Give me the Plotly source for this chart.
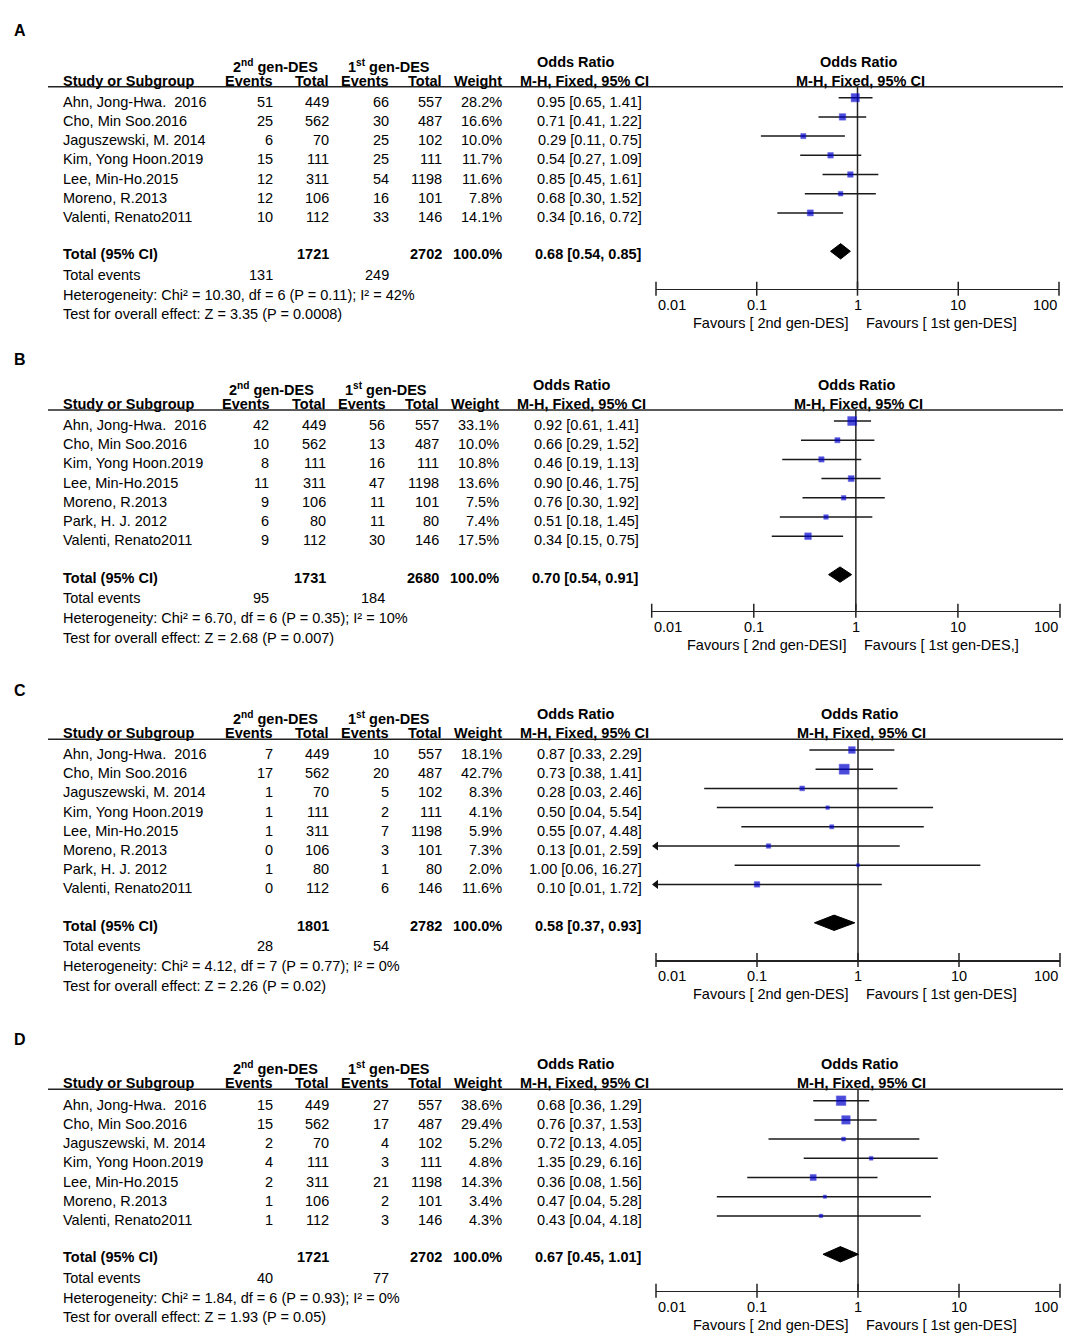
import math
import plotly.graph_objects as go

W, H = 1069, 1339
FONT = "Liberation Sans, Arial, sans-serif"
FS = 14.5

# ---------------- data ----------------
A_studies = ["Ahn, Jong-Hwa.\u00a0 2016", "Cho, Min Soo.2016", "Jaguszewski, M. 2014", "Kim, Yong Hoon.2019",
             "Lee, Min-Ho.2015", "Moreno, R.2013", "Valenti, Renato2011"]
A_ev2 = [51, 25, 6, 15, 12, 12, 10]
A_tot2 = [449, 562, 70, 111, 311, 106, 112]
A_ev1 = [66, 30, 25, 25, 54, 16, 33]
A_tot1 = [557, 487, 102, 111, 1198, 101, 146]
A_weight = [28.2, 16.6, 10.0, 11.7, 11.6, 7.8, 14.1]
A_or = [0.95, 0.71, 0.29, 0.54, 0.85, 0.68, 0.34]
A_lo = [0.65, 0.41, 0.11, 0.27, 0.45, 0.30, 0.16]
A_hi = [1.41, 1.22, 0.75, 1.09, 1.61, 1.52, 0.72]
A_totals = [1721, 2702]
A_total_ci = [0.68, 0.54, 0.85]
A_total_events = [131, 249]
A_het = "Heterogeneity: Chi² = 10.30, df = 6 (P = 0.11); I² = 42%"
A_test = "Test for overall effect: Z = 3.35 (P = 0.0008)"
A_fav = ["Favours [ 2nd gen-DES]", "Favours [ 1st gen-DES]"]

B_studies = ["Ahn, Jong-Hwa.\u00a0 2016", "Cho, Min Soo.2016", "Kim, Yong Hoon.2019", "Lee, Min-Ho.2015",
             "Moreno, R.2013", "Park, H. J. 2012", "Valenti, Renato2011"]
B_ev2 = [42, 10, 8, 11, 9, 6, 9]
B_tot2 = [449, 562, 111, 311, 106, 80, 112]
B_ev1 = [56, 13, 16, 47, 11, 11, 30]
B_tot1 = [557, 487, 111, 1198, 101, 80, 146]
B_weight = [33.1, 10.0, 10.8, 13.6, 7.5, 7.4, 17.5]
B_or = [0.92, 0.66, 0.46, 0.90, 0.76, 0.51, 0.34]
B_lo = [0.61, 0.29, 0.19, 0.46, 0.30, 0.18, 0.15]
B_hi = [1.41, 1.52, 1.13, 1.75, 1.92, 1.45, 0.75]
B_totals = [1731, 2680]
B_total_ci = [0.70, 0.54, 0.91]
B_total_events = [95, 184]
B_het = "Heterogeneity: Chi² = 6.70, df = 6 (P = 0.35); I² = 10%"
B_test = "Test for overall effect: Z = 2.68 (P = 0.007)"
B_fav = ["Favours [ 2nd gen-DESI]", "Favours [ 1st gen-DES,]"]

C_studies = ["Ahn, Jong-Hwa.\u00a0 2016", "Cho, Min Soo.2016", "Jaguszewski, M. 2014", "Kim, Yong Hoon.2019",
             "Lee, Min-Ho.2015", "Moreno, R.2013", "Park, H. J. 2012", "Valenti, Renato2011"]
C_ev2 = [7, 17, 1, 1, 1, 0, 1, 0]
C_tot2 = [449, 562, 70, 111, 311, 106, 80, 112]
C_ev1 = [10, 20, 5, 2, 7, 3, 1, 6]
C_tot1 = [557, 487, 102, 111, 1198, 101, 80, 146]
C_weight = [18.1, 42.7, 8.3, 4.1, 5.9, 7.3, 2.0, 11.6]
C_or = [0.87, 0.73, 0.28, 0.50, 0.55, 0.13, 1.00, 0.10]
C_lo = [0.33, 0.38, 0.03, 0.04, 0.07, 0.01, 0.06, 0.01]
C_hi = [2.29, 1.41, 2.46, 5.54, 4.48, 2.59, 16.27, 1.72]
C_totals = [1801, 2782]
C_total_ci = [0.58, 0.37, 0.93]
C_total_events = [28, 54]
C_het = "Heterogeneity: Chi² = 4.12, df = 7 (P = 0.77); I² = 0%"
C_test = "Test for overall effect: Z = 2.26 (P = 0.02)"
C_fav = ["Favours [ 2nd gen-DES]", "Favours [ 1st gen-DES]"]

D_studies = ["Ahn, Jong-Hwa.\u00a0 2016", "Cho, Min Soo.2016", "Jaguszewski, M. 2014", "Kim, Yong Hoon.2019",
             "Lee, Min-Ho.2015", "Moreno, R.2013", "Valenti, Renato2011"]
D_ev2 = [15, 15, 2, 4, 2, 1, 1]
D_tot2 = [449, 562, 70, 111, 311, 106, 112]
D_ev1 = [27, 17, 4, 3, 21, 2, 3]
D_tot1 = [557, 487, 102, 111, 1198, 101, 146]
D_weight = [38.6, 29.4, 5.2, 4.8, 14.3, 3.4, 4.3]
D_or = [0.68, 0.76, 0.72, 1.35, 0.36, 0.47, 0.43]
D_lo = [0.36, 0.37, 0.13, 0.29, 0.08, 0.04, 0.04]
D_hi = [1.29, 1.53, 4.05, 6.16, 1.56, 5.28, 4.18]
D_totals = [1721, 2702]
D_total_ci = [0.67, 0.45, 1.01]
D_total_events = [40, 77]
D_het = "Heterogeneity: Chi² = 1.84, df = 6 (P = 0.93); I² = 0%"
D_test = "Test for overall effect: Z = 1.93 (P = 0.05)"
D_fav = ["Favours [ 2nd gen-DES]", "Favours [ 1st gen-DES]"]

tick_vals = [0.01, 0.1, 1, 10, 100]
tick_text = ["0.01", "0.1", "1", "10", "100"]

panels = [
    dict(label="A", studies=A_studies, ev2=A_ev2, tot2=A_tot2, ev1=A_ev1, tot1=A_tot1, w=A_weight,
         orv=A_or, lo=A_lo, hi=A_hi, totals=A_totals, tci=A_total_ci, tev=A_total_events, het=A_het,
         test=A_test, fav=A_fav),
    dict(label="B", studies=B_studies, ev2=B_ev2, tot2=B_tot2, ev1=B_ev1, tot1=B_tot1, w=B_weight,
         orv=B_or, lo=B_lo, hi=B_hi, totals=B_totals, tci=B_total_ci, tev=B_total_events, het=B_het,
         test=B_test, fav=B_fav),
    dict(label="C", studies=C_studies, ev2=C_ev2, tot2=C_tot2, ev1=C_ev1, tot1=C_tot1, w=C_weight,
         orv=C_or, lo=C_lo, hi=C_hi, totals=C_totals, tci=C_total_ci, tev=C_total_events, het=C_het,
         test=C_test, fav=C_fav),
    dict(label="D", studies=D_studies, ev2=D_ev2, tot2=D_tot2, ev1=D_ev1, tot1=D_tot1, w=D_weight,
         orv=D_or, lo=D_lo, hi=D_hi, totals=D_totals, tci=D_total_ci, tev=D_total_events, het=D_het,
         test=D_test, fav=D_fav),
]

# ---------------- layout constants (pixels) ----------------
geo = [
    dict(first=97.7, header=86.7, axis=288.7, lab=31.0, dx=0.0, axl=656.0, axr=1059.0),
    dict(first=421.0, header=410.0, axis=610.7, lab=359.0, dx=-3.3, axl=651.7, axr=1060.0),
    dict(first=750.0, header=739.3, axis=960.0, lab=690.0, dx=0.0, axl=656.0, axr=1060.0),
    dict(first=1100.7, header=1089.3, axis=1290.7, lab=1039.0, dx=0.0, axl=656.0, axr=1060.0),
]
SP = 19.2
TXT_OFF = 4.0
COL = dict(name=61, ev2=274.5, tot2=331, ev1=390.5, tot1=444, wt=504, ci=644)

fig = go.Figure()
annotations = []
shapes = []


def ann(text, x_px, y_px, anchor="left", bold=False, size=FS):
    if bold:
        text = "<b>" + text + "</b>"
    annotations.append(dict(text=text, x=x_px / W, y=1 - y_px / H, xref="paper", yref="paper",
                            xanchor=anchor, yanchor="middle", showarrow=False,
                            font=dict(family=FONT, size=size, color="#000")))


def msize(w):
    return max(3.0, 1.45 * math.sqrt(w) + 0.6)


layout_axes = {}
for k, (p, g) in enumerate(zip(panels, geo)):
    idx = k + 1
    xa = "x" if idx == 1 else f"x{idx}"
    ya = "y" if idx == 1 else f"y{idx}"
    n = len(p["studies"])
    top_val = (g["header"] - g["first"]) / SP
    bot_val = (g["axis"] - g["first"]) / SP
    rows = list(range(n))
    trow = n + 1
    dx = g["dx"]

    # axes
    layout_axes["xaxis" if idx == 1 else f"xaxis{idx}"] = dict(
        type="log", range=[-2, 2], domain=[g["axl"] / W, g["axr"] / W], anchor=ya,
        showline=True, linewidth=1.5, linecolor="#222", ticks="", showticklabels=False,
        showgrid=False, zeroline=False, fixedrange=True)
    layout_axes["yaxis" if idx == 1 else f"yaxis{idx}"] = dict(
        range=[bot_val, top_val], domain=[1 - g["axis"] / H, 1 - g["header"] / H], anchor=xa,
        visible=False, showgrid=False, zeroline=False, fixedrange=True)

    # vertical line at OR = 1
    fig.add_trace(go.Scatter(x=[1, 1], y=[top_val, bot_val], mode="lines", xaxis=xa, yaxis=ya,
                             line=dict(color="#222", width=1.5), cliponaxis=False, hoverinfo="skip"))
    # CI lines
    cx, cy = [], []
    for r, lo, hi in zip(rows, p["lo"], p["hi"]):
        cx += [max(lo, 0.01), min(hi, 100), None]
        cy += [r, r, None]
    fig.add_trace(go.Scatter(x=cx, y=cy, mode="lines", xaxis=xa, yaxis=ya,
                             line=dict(color="#1a1a1a", width=1.5), cliponaxis=False, hoverinfo="skip"))
    # arrows for truncated CIs
    arx = [0.01 for lo in p["lo"] if lo <= 0.01]
    ary = [r for r, lo in zip(rows, p["lo"]) if lo <= 0.01]
    if arx:
        fig.add_trace(go.Scatter(x=arx, y=ary, mode="markers", xaxis=xa, yaxis=ya,
                                 marker=dict(symbol="triangle-left", size=8, color="#111"),
                                 cliponaxis=False, hoverinfo="skip"))
    # study squares
    fig.add_trace(go.Scatter(x=p["orv"], y=rows, mode="markers", xaxis=xa, yaxis=ya,
                             marker=dict(symbol="square", size=[msize(w) for w in p["w"]],
                                         color="#0000CC", line=dict(color="#1A1AD8", width=0.5)),
                             cliponaxis=False, hoverinfo="skip"))
    # pooled diamond
    o, lo, hi = p["tci"]
    hh = 0.4
    fig.add_trace(go.Scatter(x=[lo, o, hi, o, lo], y=[trow, trow - hh, trow, trow + hh, trow],
                             mode="lines", fill="toself", fillcolor="#000", xaxis=xa, yaxis=ya,
                             line=dict(color="#000", width=1), cliponaxis=False, hoverinfo="skip"))
    # axis tick marks crossing the axis line
    fig.add_trace(go.Scatter(x=tick_vals, y=[bot_val] * len(tick_vals), mode="markers", xaxis=xa, yaxis=ya,
                             marker=dict(symbol="line-ns", size=10, line=dict(color="#222", width=1.5)),
                             cliponaxis=False, hoverinfo="skip"))

    # header line
    shapes.append(dict(type="line", xref="paper", yref="paper", x0=48 / W, x1=1063 / W,
                       y0=1 - g["header"] / H, y1=1 - g["header"] / H,
                       line=dict(color="#222", width=1.5)))

    # panel label
    ann(p["label"], 19.5, g["lab"], anchor="center", bold=True, size=16)

    hy = g["header"]
    ann("Odds Ratio", 575 + dx, hy - 25, anchor="center", bold=True)
    ann("2<sup>nd</sup> gen-DES", 230.6 + dx, hy - 21, bold=True)
    ann("1<sup>st</sup> gen-DES", 346 + dx, hy - 21, bold=True)
    ann("Study or Subgroup", COL["name"], hy - 6, bold=True)
    ann("Events", 275 + dx, hy - 6, anchor="right", bold=True)
    ann("Total", 331 + dx, hy - 6, anchor="right", bold=True)
    ann("Events", 391 + dx, hy - 6, anchor="right", bold=True)
    ann("Total", 444 + dx, hy - 6, anchor="right", bold=True)
    ann("Weight", 504 + dx, hy - 6, anchor="right", bold=True)
    ann("M-H, Fixed, 95% CI", 651 + dx, hy - 6, anchor="right", bold=True)

    # right-side headers, centred on OR = 1 via the axis
    for txt, yy, xs in [("Odds Ratio", hy - 25, 1), ("M-H, Fixed, 95% CI", hy - 6, 3)]:
        annotations.append(dict(text="<b>" + txt + "</b>", x=0, xref=xa, y=1 - yy / H, yref="paper",
                                xshift=xs, xanchor="center", yanchor="middle", showarrow=False,
                                font=dict(family=FONT, size=FS, color="#000")))

    # study rows
    for r in rows:
        yy = g["first"] + r * SP + TXT_OFF
        ann(p["studies"][r], COL["name"], yy)
        ann(str(p["ev2"][r]), COL["ev2"] + dx, yy, anchor="right")
        ann(str(p["tot2"][r]), COL["tot2"] + dx, yy, anchor="right")
        ann(str(p["ev1"][r]), COL["ev1"] + dx, yy, anchor="right")
        ann(str(p["tot1"][r]), COL["tot1"] + dx, yy, anchor="right")
        ann(f"{p['w'][r]:.1f}%", COL["wt"] + dx, yy, anchor="right")
        ann(f"{p['orv'][r]:.2f} [{p['lo'][r]:.2f}, {p['hi'][r]:.2f}]", COL["ci"] + dx, yy, anchor="right")

    # totals
    ty = g["first"] + trow * SP + TXT_OFF - 1
    ann("Total (95% CI)", COL["name"], ty, bold=True)
    ann(str(p["totals"][0]), COL["tot2"] + dx, ty, anchor="right", bold=True)
    ann(str(p["totals"][1]), COL["tot1"] + dx, ty, anchor="right", bold=True)
    ann("100.0%", COL["wt"] + dx, ty, anchor="right", bold=True)
    ann(f"{o:.2f} [{lo:.2f}, {hi:.2f}]", COL["ci"] + dx, ty, anchor="right", bold=True)
    ann("Total events", COL["name"], ty + 20.5)
    ann(str(p["tev"][0]), COL["ev2"] + dx, ty + 20.5, anchor="right")
    ann(str(p["tev"][1]), COL["ev1"] + dx, ty + 20.5, anchor="right")
    ann(p["het"], COL["name"], ty + 40.5)
    ann(p["test"], COL["name"], ty + 60)

    # tick labels (end labels kept inside the axis)
    ay = g["axis"] + 16
    for v, t in zip(tick_vals, tick_text):
        anc = "left" if v == tick_vals[0] else ("right" if v == tick_vals[-1] else "center")
        annotations.append(dict(text=t, x=math.log10(v), xref=xa, y=1 - ay / H, yref="paper",
                                xanchor=anc, yanchor="middle", showarrow=False,
                                font=dict(family=FONT, size=FS, color="#000")))
    fy = g["axis"] + 34
    annotations.append(dict(text=p["fav"][0], x=0, xref=xa, y=1 - fy / H, yref="paper", xshift=-7,
                            xanchor="right", yanchor="middle", showarrow=False,
                            font=dict(family=FONT, size=FS, color="#000")))
    annotations.append(dict(text=p["fav"][1], x=0, xref=xa, y=1 - fy / H, yref="paper", xshift=6,
                            xanchor="left", yanchor="middle", showarrow=False,
                            font=dict(family=FONT, size=FS, color="#000")))

fig.update_layout(
    width=W, height=H, autosize=False,
    margin=dict(l=0, r=0, t=0, b=0, pad=0),
    paper_bgcolor="white", plot_bgcolor="white",
    showlegend=False,
    annotations=annotations, shapes=shapes,
    font=dict(family=FONT, size=FS, color="#000"),
    **layout_axes,
)

fig.write_html("out.html", config={"displayModeBar": False, "staticPlot": True},
               post_script="document.body.style.margin='0';")
